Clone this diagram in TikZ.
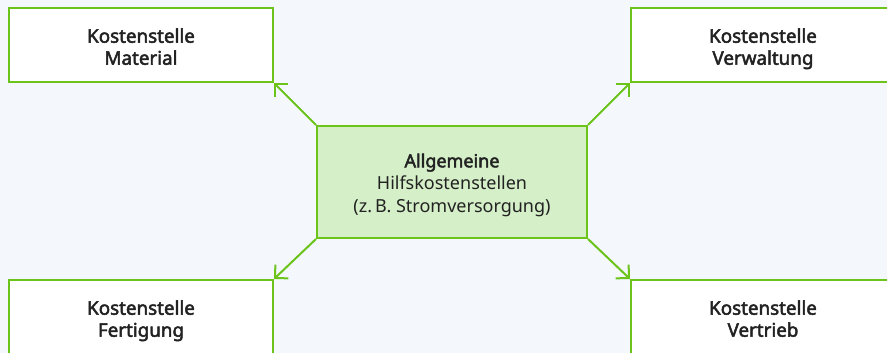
\documentclass[tikz,border=0pt]{standalone}
\usepackage{fontspec}
\setmainfont{Noto Sans}[BoldFont={Noto Sans}, BoldFeatures={FakeBold=2.5}]
\usetikzlibrary{arrows.meta}
\definecolor{bgblue}{HTML}{F4F8FC}
\definecolor{lgreen}{HTML}{6CC31A}
\definecolor{cfill}{HTML}{D5EFC8}
\definecolor{txt}{HTML}{222222}
% invisible rules that fix the height of the first line and the depth of the last
\newcommand\boxtopstrut[1]{\rule{0pt}{#1}}
\newcommand\boxbotstrut{\rule[-5pt]{0pt}{5pt}}
\tikzset{
  costbox/.style={draw=lgreen, line width=2pt, fill=white, rectangle,
    minimum width=264pt, minimum height=74pt, align=center, inner sep=0pt,
    font=\fontsize{18.8}{22}\selectfont\bfseries, text=txt},
  hubbox/.style={draw=lgreen, line width=2pt, fill=cfill, rectangle,
    minimum width=270pt, minimum height=112pt, align=center, inner sep=0pt,
    font=\fontsize{18}{22.5}\selectfont, text=txt},
  link/.style={draw=lgreen, line width=2pt,
    -{Straight Barb[length=9.5pt, width=19pt, line width=2pt]}}
}
\begin{document}
\begin{tikzpicture}[x=1pt, y=-1pt]
  \fill[bgblue] (0,0) rectangle (887,353);
  \useasboundingbox (0,0) rectangle (887,353);
  \clip (0,0) rectangle (887,353);

  % cost centres
  \node[costbox] (mat) at (141,45)  {\boxtopstrut{22.4pt}Kostenstelle\\Material\boxbotstrut};
  \node[costbox] (ver) at (763,45)  {\boxtopstrut{22.4pt}Kostenstelle\\Verwaltung\boxbotstrut};
  \node[costbox] (fer) at (141,317) {\boxtopstrut{22.4pt}Kostenstelle\\Fertigung\boxbotstrut};
  \node[costbox] (vtr) at (763,317) {\boxtopstrut{22.4pt}Kostenstelle\\Vertrieb\boxbotstrut};

  % general auxiliary cost centre
  \node[hubbox] (hub) at (452,182)
    {\boxtopstrut{20.6pt}{\bfseries Allgemeine}\\Hilfskostenstellen\\(z.\,B. Stromversorgung)\boxbotstrut};

  % allocations
  \draw[link] (hub.north west) -- (mat.south east);
  \draw[link] (hub.north east) -- (ver.south west);
  \draw[link] (hub.south west) -- (fer.north east);
  \draw[link] (hub.south east) -- (vtr.north west);
\end{tikzpicture}
\end{document}
